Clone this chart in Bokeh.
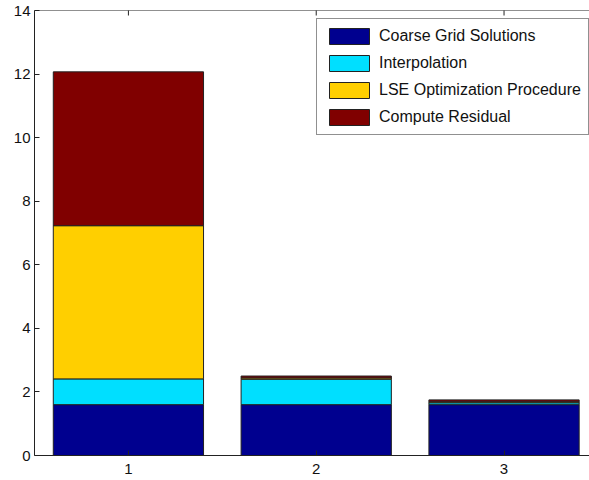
import math
from bokeh.plotting import figure
from bokeh.models import FixedTicker, Range1d, Legend, Span
from bokeh.embed import file_html
from bokeh.resources import INLINE

# Timing breakdown per run (seconds)
runs = [1, 2, 3]
coarse = [1.60, 1.60, 1.60]
interp = [0.81, 0.80, 0.06]
lse = [4.82, 0.04, 0.03]
resid = [4.84, 0.06, 0.06]

stages = ["coarse", "interp", "lse", "resid"]
labels = ["Coarse Grid Solutions", "Interpolation", "LSE Optimization Procedure", "Compute Residual"]
colors = ["#00008F", "#00DFFF", "#FFCF00", "#800000"]

Y_MAX = 14
data = dict(run=runs, coarse=coarse, interp=interp, lse=lse, resid=resid)

FONT = "Liberation Sans"
EDGE = "#222222"

p = figure(width=589, height=480, output_backend="svg", toolbar_location=None,
           x_range=Range1d(0.5, 3.455), y_range=Range1d(0, Y_MAX),
           min_border_left=34, min_border_right=0, min_border_top=10, min_border_bottom=25)
p.background_fill_color = "white"
p.border_fill_color = "white"
p.outline_line_color = None
p.xgrid.visible = False
p.ygrid.visible = False

renderers = p.vbar_stack(stages, x="run", width=0.8, source=data, color=colors,
                         line_color=EDGE, line_width=1)

# top border of the box and its inward tick marks
p.add_layout(Span(location=Y_MAX, dimension="width", line_color=EDGE, line_width=1))
p.scatter(x=runs, y=[Y_MAX] * len(runs), marker="dash", size=10, angle=math.pi / 2,
          line_color=EDGE, line_width=1)

for ax in (p.xaxis[0], p.yaxis[0]):
    ax.major_tick_in = 5
    ax.major_tick_out = 0
    ax.minor_tick_line_color = None
    ax.axis_line_color = EDGE
    ax.major_tick_line_color = EDGE
    ax.major_label_text_font = FONT
    ax.major_label_text_font_size = "15px"
    ax.major_label_text_color = "#111111"

p.xaxis[0].ticker = FixedTicker(ticks=runs)
p.xaxis[0].major_label_standoff = 8
p.yaxis[0].ticker = FixedTicker(ticks=list(range(0, Y_MAX + 1, 2)))
p.yaxis[0].major_label_standoff = 4

legend = Legend(items=[(lab, [r]) for lab, r in zip(labels, renderers)],
                location=(282, 320), orientation="vertical")
legend.border_line_color = EDGE
legend.border_line_width = 1
legend.background_fill_color = "white"
legend.background_fill_alpha = 1
legend.glyph_width = 50
legend.glyph_height = 20
legend.label_height = 20
legend.spacing = 7
legend.padding = 7
legend.margin = 0
legend.label_standoff = 5
legend.label_text_font = FONT
legend.label_text_font_size = "16px"
legend.label_text_color = "#111111"
p.add_layout(legend, "center")

open("out.html", "w").write(file_html(p, INLINE))
